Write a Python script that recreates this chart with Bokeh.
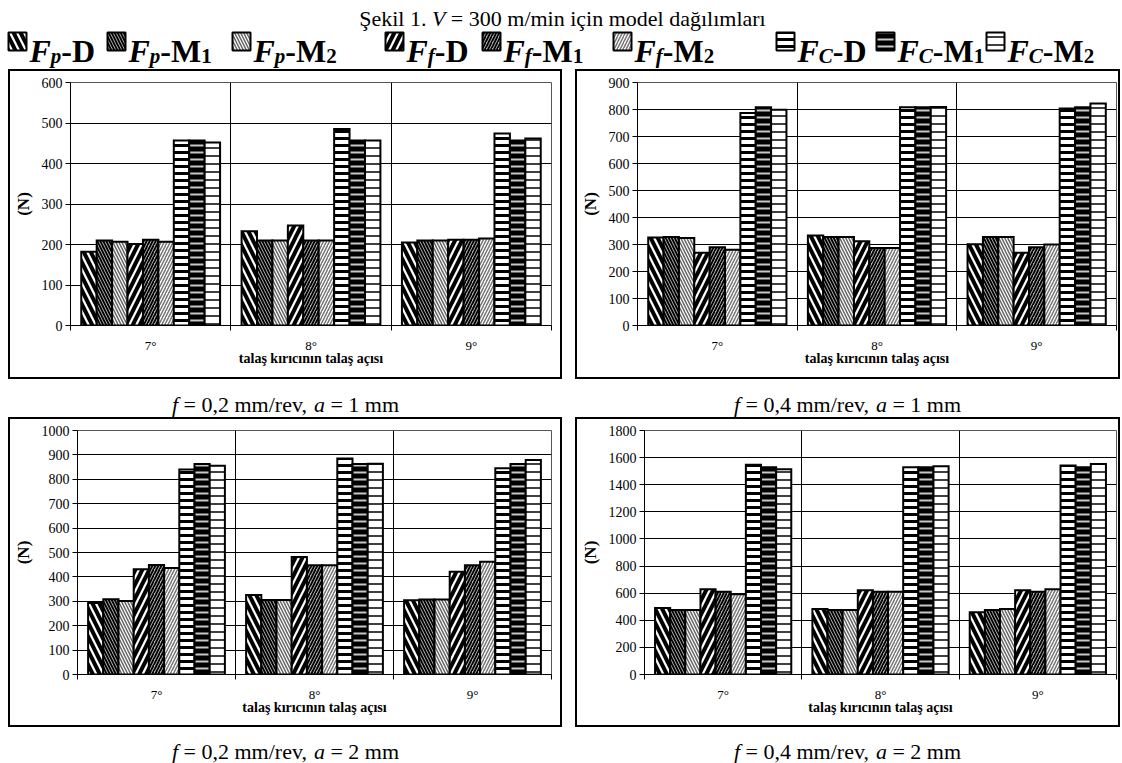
from bokeh.plotting import figure
from bokeh.models import (Range1d, FixedTicker, ColumnDataSource, Grid, Label, LinearAxis,
                          CustomJSTickFormatter, Spacer)
from bokeh.layouts import column, row
from bokeh.transform import dodge
from bokeh.embed import file_html
from bokeh.resources import INLINE

SERIF = "Liberation Serif"

angles = ["7°", "8°", "9°"]
series = ["Fp-D", "Fp-M1", "Fp-M2", "Ff-D", "Ff-M1", "Ff-M2", "FC-D", "FC-M1", "FC-M2"]

# Force components (N) per chip-breaker rake angle: D = measured, M1/M2 = models
forces_f02_a1 = {
    "Fp-D":  [182, 233, 205],
    "Fp-M1": [210, 210, 210],
    "Fp-M2": [207, 210, 210],
    "Ff-D":  [201, 247, 212],
    "Ff-M1": [212, 210, 212],
    "Ff-M2": [207, 210, 215],
    "FC-D":  [457, 485, 474],
    "FC-M1": [457, 457, 457],
    "FC-M2": [452, 457, 462],
}
forces_f04_a1 = {
    "Fp-D":  [326, 333, 301],
    "Fp-M1": [328, 328, 328],
    "Fp-M2": [324, 328, 328],
    "Ff-D":  [269, 312, 269],
    "Ff-M1": [290, 287, 290],
    "Ff-M2": [281, 287, 300],
    "FC-D":  [787, 808, 804],
    "FC-M1": [808, 808, 808],
    "FC-M2": [799, 809, 822],
}
forces_f02_a2 = {
    "Fp-D":  [293, 326, 304],
    "Fp-M1": [308, 305, 307],
    "Fp-M2": [301, 305, 307],
    "Ff-D":  [431, 482, 421],
    "Ff-M1": [449, 448, 448],
    "Ff-M2": [436, 448, 462],
    "FC-D":  [840, 885, 845],
    "FC-M1": [863, 863, 863],
    "FC-M2": [856, 864, 879],
}
forces_f04_a2 = {
    "Fp-D":  [491, 483, 459],
    "Fp-M1": [476, 476, 476],
    "Fp-M2": [476, 476, 483],
    "Ff-D":  [629, 621, 621],
    "Ff-M1": [611, 611, 611],
    "Ff-M2": [592, 611, 629],
    "FC-D":  [1548, 1529, 1541],
    "FC-M1": [1529, 1529, 1529],
    "FC-M2": [1514, 1536, 1553],
}

# hatch fills for the nine series
BAR_STYLE = {
    "Fp-D":  dict(fill_color="white", hatch_pattern="\\", hatch_color="black", hatch_weight=4, hatch_scale=14),
    "Fp-M1": dict(fill_color="#b4b4b4", hatch_pattern="\\", hatch_color="black", hatch_weight=1.8, hatch_scale=6),
    "Fp-M2": dict(fill_color="white", hatch_pattern="\\", hatch_color="#666666", hatch_weight=1.5, hatch_scale=6),
    "Ff-D":  dict(fill_color="white", hatch_pattern="/", hatch_color="black", hatch_weight=4, hatch_scale=14),
    "Ff-M1": dict(fill_color="#b4b4b4", hatch_pattern="/", hatch_color="black", hatch_weight=1.8, hatch_scale=6),
    "Ff-M2": dict(fill_color="white", hatch_pattern="/", hatch_color="#777777", hatch_weight=1.5, hatch_scale=6),
    "FC-D":  dict(fill_color="white", hatch_pattern="-", hatch_color="black", hatch_weight=3, hatch_scale=7),
    "FC-M1": dict(fill_color="black", hatch_pattern="-", hatch_color="#c8c8c8", hatch_weight=2, hatch_scale=7),
    "FC-M2": dict(fill_color="white", hatch_pattern="-", hatch_color="black", hatch_weight=1.5, hatch_scale=8),
}

BAR_W = 0.0962
BOX = {"border": "2px solid black"}


def panel(forces, ymax, ystep, width, height, bl, br, bt, bb):
    # the canvas starts inside the 2px chart border; min_border values are taken from there
    p = figure(width=width, height=height, x_range=Range1d(0, 3), y_range=Range1d(0, ymax),
               x_axis_type=None, output_backend="svg", toolbar_location=None, title=None,
               min_border_left=bl, min_border_right=br, min_border_top=bt, min_border_bottom=bb,
               background_fill_color="white", border_fill_color="white",
               outline_line_color="#555555", outline_line_width=1, styles=BOX)
    src = ColumnDataSource(dict(x=[0.5, 1.5, 2.5], **forces))
    for i, name in enumerate(series):
        p.vbar(x=dodge("x", (i - 4) * BAR_W, range=p.x_range), top=name, bottom=0,
               width=BAR_W, source=src, line_color="black", line_width=2,
               line_join="miter", **BAR_STYLE[name])

    yticks = FixedTicker(ticks=list(range(0, ymax + 1, ystep)))
    yax = p.yaxis[0]
    yax.ticker = yticks
    yax.minor_tick_line_color = None
    yax.major_tick_in = 0
    yax.major_tick_out = 5
    yax.axis_line_color = "black"
    yax.major_tick_line_color = "black"
    yax.major_label_text_font = SERIF
    yax.major_label_text_font_size = "14px"
    yax.major_label_text_color = "black"
    yax.major_label_standoff = 3
    yax.axis_label = "(N)"
    yax.axis_label_text_font = SERIF
    yax.axis_label_text_font_style = "bold"
    yax.axis_label_text_font_size = "17px"
    yax.axis_label_text_color = "black"
    yax.axis_label_standoff = 6
    p.ygrid[0].ticker = yticks
    p.ygrid[0].grid_line_color = "black"
    p.ygrid[0].grid_line_width = 1
    p.add_layout(Grid(dimension=0, ticker=FixedTicker(ticks=[1, 2]),
                      grid_line_color="black", grid_line_width=1))

    # angle names centred under each group, short ticks on the group boundaries
    name_axis = LinearAxis(ticker=FixedTicker(ticks=[0.5, 1.5, 2.5], minor_ticks=[0, 1, 2, 3]),
                           formatter=CustomJSTickFormatter(args=dict(names=angles),
                                                           code="return names[Math.floor(tick)]"),
                           axis_line_color="black", major_tick_line_color=None,
                           major_tick_in=0, major_tick_out=0,
                           minor_tick_line_color="black", minor_tick_in=0, minor_tick_out=5,
                           major_label_standoff=7,
                           major_label_text_font=SERIF, major_label_text_font_size="13px",
                           major_label_text_color="black",
                           axis_label="talaş kırıcının talaş açısı", axis_label_standoff=-5,
                           axis_label_text_font=SERIF, axis_label_text_font_style="bold",
                           axis_label_text_font_size="14px", axis_label_text_color="black")
    p.add_layout(name_axis, "below")
    return p


# glyph advance widths (per 1000 em) for the serif face
REG = {' ': 250, '(': 333, ')': 333, ',': 250, '-': 333, '.': 250, '/': 278, '=': 564,
       'Ş': 556, 'V': 722, 'a': 444, 'ç': 444, 'd': 500, 'e': 444, 'ğ': 500, 'i': 278,
       'ı': 278, 'k': 500, 'l': 278, 'm': 778, 'n': 500, 'o': 500, 'r': 333, 'v': 500}
ITAL = {'f': 278, 'a': 500, 'V': 611}
BOLD = {'-': 333, 'D': 722, 'M': 944, '1': 500, '2': 500}
BOLDITAL = {'F': 667, 'p': 500, 'f': 333, 'C': 667}
TABLES = {"normal": REG, "italic": ITAL, "bold": BOLD, "bold italic": BOLDITAL}


def run_width(txt, style, size):
    tab = TABLES[style]
    return sum(tab.get(c, 500) for c in txt) * size / 1000.0


def draw_runs(fig, x0, y, runs):
    # SVG drops leading/trailing blanks, so they are turned into horizontal advance
    x = x0
    for txt, style, size, dy in runs:
        body = txt.strip(" ")
        lead = len(txt) - len(txt.lstrip(" "))
        x += run_width(" " * lead, "normal", size)
        fig.add_layout(Label(x=x, y=y + dy, text=body, text_font=SERIF,
                             text_font_size=f"{size}px", text_font_style=style,
                             text_baseline="alphabetic", text_align="left",
                             text_color="black"))
        x += run_width(txt.lstrip(" "), style, size)
    return x


def runs_width(runs):
    return sum(run_width(t, s, z) for t, s, z, _ in runs)


def strip(width, height):
    return figure(width=width, height=height, x_range=Range1d(0, width), y_range=Range1d(height, 0),
                  x_axis_type=None, y_axis_type=None, output_backend="svg", toolbar_location=None,
                  title=None, min_border=0, outline_line_color=None,
                  background_fill_color="white", border_fill_color="white")


# header: title and legend
head = strip(1122, 69)
title_runs = [("Şekil 1. ", "normal", 22, 0), ("V", "italic", 22, 0),
              (" = 300 m/min için model dağılımları", "normal", 22, 0)]
draw_runs(head, 562 - runs_width(title_runs) / 2, 18, title_runs)

MAIN, SUB = 32, 21
legend_x = [8, 107, 232, 385, 482, 613, 776, 876, 986]
base = 50
for name, x in zip(series, legend_x):
    force, model = name.split("-")
    sub = force[1]
    head.rect(x=[x + 9], y=[base - 9], width=18, height=18, line_color="black",
              line_width=2, **BAR_STYLE[name])
    runs = [("F", "bold italic", MAIN, 0), (sub, "bold italic", SUB, 5)]
    if model == "D":
        runs.append(("-D", "bold", MAIN, 0))
    else:
        runs += [("-M", "bold", MAIN, 0), (model[1], "bold", SUB, 5)]
    draw_runs(head, x + 21, base, runs)

tl = panel(forces_f02_a1, 600, 100, 554, 310, 57, 13, 11, 56)
tr = panel(forces_f04_a1, 900, 100, 545, 310, 56, 6, 11, 56)
bl = panel(forces_f02_a2, 1000, 100, 554, 310, 63, 13, 11, 55)
br = panel(forces_f04_a2, 1800, 200, 545, 310, 63, 6, 11, 55)


def caption(height, y, texts):
    f = strip(1122, height)
    for cx, fval, aval in texts:
        runs = [("f", "italic", 22, 0), (f" = {fval} mm/rev, ", "normal", 22, 0),
                ("a", "italic", 22, 0), (f" = {aval} mm", "normal", 22, 0)]
        draw_runs(f, cx - runs_width(runs) / 2, y, runs)
    return f


cap1 = caption(38, 25, [(285, "0,2", "1"), (847, "0,4", "1")])
cap2 = caption(36, 24, [(285, "0,2", "2"), (847, "0,4", "2")])

layout = column(head,
                row(Spacer(width=8), tl, Spacer(width=13), tr),
                cap1,
                row(Spacer(width=8), bl, Spacer(width=13), br),
                cap2)

with open("out.html", "w") as fh:
    fh.write(file_html(layout, INLINE))
